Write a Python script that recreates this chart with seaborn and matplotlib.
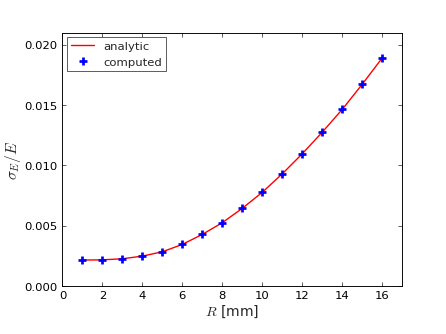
import matplotlib
matplotlib.use("Agg")
import matplotlib.pyplot as plt
import seaborn as sns
import pandas as pd

# values
radius_mm = [1, 2, 3, 4, 5, 6, 7, 8, 9, 10, 11, 12, 13, 14, 15, 16]
analytic = [0.00216, 0.00218, 0.00227, 0.00249, 0.00285, 0.00346, 0.00429, 0.00526,
            0.00645, 0.00778, 0.00931, 0.01097, 0.01276, 0.01465, 0.01673, 0.01891]
computed = [0.00216, 0.00216, 0.00227, 0.00249, 0.00285, 0.00346, 0.00429, 0.00526,
            0.00645, 0.00778, 0.00931, 0.01097, 0.01276, 0.01465, 0.01673, 0.01891]

df = pd.DataFrame({"R": radius_mm, "analytic": analytic, "computed": computed})

sns.set_style("ticks")
plt.rcParams["font.family"] = ["DejaVu Sans"]
plt.rcParams["mathtext.fontset"] = "cm"
plt.rcParams["font.size"] = 15

fig = plt.figure(figsize=(8, 6), dpi=55.75)
ax = fig.add_axes([0.140, 0.143, 0.762, 0.758])

sns.lineplot(data=df, x="R", y="analytic", color="red", lw=1.8, label="analytic", ax=ax)
ax.plot(df["R"], df["computed"], linestyle="none", marker="+", color="blue",
        ms=10, mew=3.5, label="computed")

ax.set_xlim(0, 17)
ax.set_ylim(0, 0.021)
ax.set_xticks(range(0, 17, 2))
ax.set_yticks([0.0, 0.005, 0.010, 0.015, 0.020])
ax.set_yticklabels(["0.000", "0.005", "0.010", "0.015", "0.020"])
ax.tick_params(direction="in", top=True, right=True, length=5, width=0.8,
               labelsize=15, colors="black", pad=6)
for s in ax.spines.values():
    s.set_linewidth(1.2)
    s.set_color("black")

ax.set_xlabel("$R$ [mm]", fontsize=18, labelpad=3)
ax.set_ylabel("$\\sigma_E/E$", fontsize=20, labelpad=2)

leg = ax.legend(loc="upper left", numpoints=1, fancybox=False, frameon=True,
                fontsize=15, handlelength=2.0, borderpad=0.35, borderaxespad=0.4)
leg.get_frame().set_edgecolor("black")
leg.get_frame().set_linewidth(1.0)

fig.savefig("out.png", dpi=55.75)
